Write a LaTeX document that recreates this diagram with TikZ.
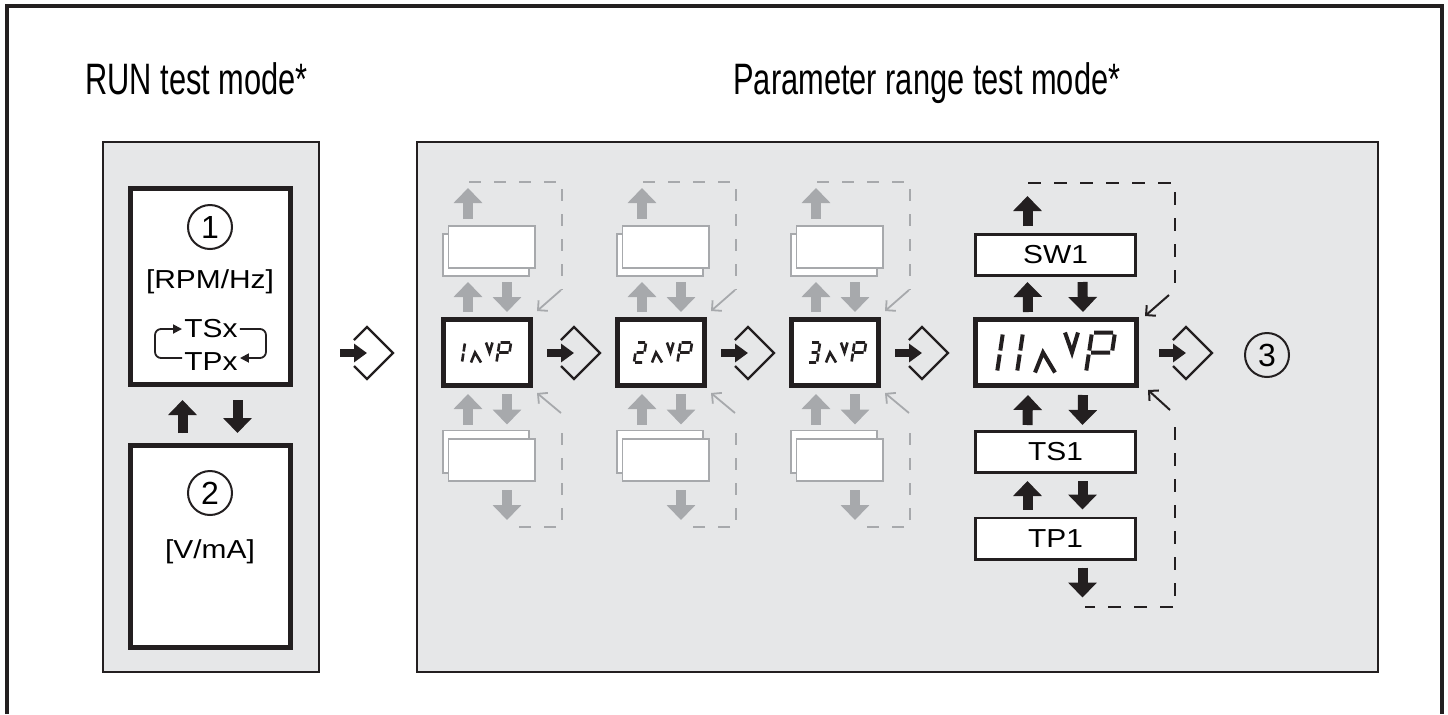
\documentclass[tikz,border=0pt]{standalone}
\usepackage{fontspec}
\setmainfont{Liberation Sans}
\newfontfamily\boxfont[FakeStretch=1.15]{Liberation Sans}
\newfontfamily\titlefont[FakeStretch=0.7]{Liberation Sans}
\usetikzlibrary{arrows.meta, calc}

\definecolor{panelgray}{RGB}{230,231,232}
\definecolor{pagegray}{RGB}{167,169,172}
\definecolor{inkblack}{RGB}{35,31,32}

% segment digits of the display (unit = segment height/2)
\newcommand{\lcdone}{\draw (0,0.1) -- (0,0.9) (0,1.1) -- (0,1.9);}
\newcommand{\lcdtwo}{\draw (-0.8,2) -- (-0.1,2) (0,1.9) -- (0,1.1) (-0.8,1) -- (-0.1,1) (-0.9,0.9) -- (-0.9,0.1) (-0.8,0) -- (-0.1,0);}
\newcommand{\lcdthree}{\draw (-0.8,2) -- (-0.1,2) (0,1.9) -- (0,1.1) (-0.7,1) -- (-0.1,1) (0,0.9) -- (0,0.1) (-0.8,0) -- (-0.1,0);}
\newcommand{\lcdtail}{%
  \draw (0.9,0) -- (1.15,1) -- (1.9,0);
  \draw (2.1,2) -- (2.6,1) -- (2.75,2);
  \draw (3.45,0.1) -- (3.45,0.9) (3.45,1.1) -- (3.45,1.9);
  \draw (3.55,2) -- (4.5,2) (4.6,1.9) -- (4.6,1.1) (3.55,1) -- (4.5,1);
}
% enter key symbol
\newcommand{\enterkey}[1]{%
  \draw[entarrow] ($(#1)+(-27,0)$) -- (#1);
  \draw[entline] ($(#1)+(-13,-13)$) -- ++(13,-13) -- ++(26,26) -- ++(-26,26) -- ++(-13,-13);
}

\begin{document}
\begin{tikzpicture}[x=0.5pt, y=-0.5pt,
    title/.style={font=\titlefont\fontsize{22}{26}\selectfont, inner sep=0pt},
    panel/.style={draw=inkblack, line width=1.2pt, fill=panelgray},
    runbox/.style={draw=inkblack, line width=2.5pt, fill=white, minimum width=80pt, minimum height=98pt, inner sep=0pt},
    txt/.style={font=\boxfont\fontsize{13}{15}\selectfont, inner sep=1pt},
    num/.style={circle, draw=inkblack, line width=1pt, minimum size=22pt, inner sep=0pt, font=\fontsize{16}{16}\selectfont},
    disp/.style={draw=inkblack, line width=2.5pt, fill=white, minimum width=43.5pt, minimum height=33pt, inner sep=0pt},
    bigdisp/.style={disp, minimum width=80.5pt},
    param/.style={draw=inkblack, line width=1.3pt, fill=white, minimum width=80.2pt, minimum height=20.7pt, inner sep=0pt, font=\boxfont\fontsize{13}{15}\selectfont},
    page/.style={draw=pagegray, line width=0.9pt, fill=white, minimum width=43.1pt, minimum height=21.1pt, inner sep=0pt},
    blk/.style={draw=inkblack, fill=inkblack, line width=5pt, -{Triangle[length=7.5pt,width=14pt]}},
    gblk/.style={blk, draw=pagegray, fill=pagegray},
    entarrow/.style={draw=inkblack, line width=4pt, -{Triangle[length=6.5pt,width=9pt]}},
    entline/.style={draw=inkblack, line width=1.2pt},
    loopline/.style={draw=inkblack, line width=0.9pt, rounded corners=3pt, -{Triangle[length=4.5pt,width=4.5pt]}},
    gdash/.style={draw=pagegray, line width=0.9pt, dash pattern=on 6pt off 6.5pt},
    bdash/.style={draw=inkblack, line width=1.3pt, dash pattern=on 6.5pt off 6.5pt},
    gthin/.style={draw=pagegray, line width=0.9pt, -{Straight Barb[length=3.5pt,width=7pt]}},
    bthin/.style={draw=inkblack, line width=1pt, -{Straight Barb[length=3.5pt,width=7pt]}}
  ]
  \useasboundingbox (0,0) rectangle (1448,714);

  % frame and panels
  \draw[inkblack, line width=1.6pt] (7,714) -- (7,6) -- (1442,6) -- (1442,714);
  \draw[panel] (103,142) rectangle (319,672);
  \draw[panel] (417,142) rectangle (1378,672);

  \node[title, anchor=base west] (runtitle) at (85,94) {RUN test mode*};
  \node[title, anchor=base west] (partitle) at (733,94) {Parameter range test mode*};

  % RUN test mode
  \node[runbox] (run) at (210.5,286.5) {};
  \node[num] (n1) at (210,227) {1};
  \node[txt] (rpm) at (210,282) {[RPM/Hz]};
  \node[txt] (tsx) at (211,329) {TSx};
  \node[txt] (tpx) at (211,362) {TPx};
  \draw[loopline] ($(tpx.west)+(0,-4)$) -- ++(-27,0) |- (tsx.west);
  \draw[loopline] (tsx.east) -- ++(26,0) |- ($(tpx.east)+(0,-4)$);

  \node[runbox, minimum height=101pt] (volt) at (210.5,546.5) {};
  \node[num] (n2) at (210,493) {2};
  \node[txt] (vma) at (210,552) {[V/mA]};

  \draw[blk] ($(volt.north)+(-28,-10)$) -- ($(run.south)+(-28,13)$);
  \draw[blk] ($(run.south)+(27,13)$) -- ($(volt.north)+(27,-10)$);

  % enter keys
  \coordinate (e1) at (367,353);
  \coordinate (e2) at (574,353);
  \coordinate (e3) at (748,353);
  \coordinate (e4) at (922,353);
  \coordinate (e5) at (1186,353);
  \foreach \e in {e1,e2,e3,e4,e5}{\enterkey{\e}}

  % parameter columns 1..3 (grey)
  \foreach \i/\cx/\dx/\dg in {1/487/-25/\lcdone, 2/661/-18/\lcdtwo, 3/835/-18/\lcdthree}{
    \node[page] (d\i tb) at (\cx-1,255) {};
    \node[page] (d\i tf) at (\cx+4.5,247) {};
    \node[page] (d\i bb) at (\cx-1,451.5) {};
    \node[page] (d\i bf) at (\cx+4.5,460) {};
    \node[disp] (d\i) at (\cx,352.5) {};
    \begin{scope}[shift={(d\i.center)}, shift={(\dx,10)}, x=5pt, y=5pt, xslant=0.15, line width=1.3pt, color=inkblack]
      \dg
      \lcdtail
    \end{scope}
    \draw[gblk] ($(d\i tf.north)+(-23.5,-6)$) -- ++(0,-31);
    \draw[gblk] ($(d\i.north)+(-19,-5)$) -- ($(d\i tb.south)+(-18,5)$);
    \draw[gblk] ($(d\i tb.south)+(21,5)$) -- ($(d\i.north)+(20,-5)$);
    \draw[gblk] ($(d\i bb.north)+(-18,-5)$) -- ($(d\i.south)+(-19,6)$);
    \draw[gblk] ($(d\i.south)+(20,6)$) -- ($(d\i bb.north)+(21,-5)$);
    \draw[gblk] ($(d\i bf.south)+(15.5,8)$) -- ++(0,30);
    \draw[gdash] ($(d\i.north)+(-18,-135)$) -| ($(d\i.north)+(75,-27)$);
    \draw[gthin] ($(d\i.north east)+(28,-27)$) -- ($(d\i.north east)+(4,-6)$);
    \draw[gthin] ($(d\i.south east)+(28,25)$) -- ($(d\i.south east)+(4,5)$);
    \draw[gdash] ($(d\i.south)+(75,45)$) |- ($(d\i.south)+(21,139)$);
  }

  % parameter column 11
  \node[param] (sw) at (1055.5,255) {SW1};
  \node[bigdisp] (big) at (1056,352.5) {};
  \node[param] (ts) at (1055.5,452) {TS1};
  \node[param] (tp) at (1055.5,538.5) {TP1};
  \begin{scope}[shift={(big.center)}, shift={(-39,20)}, x=10pt, y=10pt, xslant=0.15, line width=2pt, color=inkblack]
    \draw (-1,0.1) -- (-1,0.9) (-1,1.1) -- (-1,1.9);
    \lcdone
    \lcdtail
  \end{scope}

  \draw[blk] ($(sw.north)+(-28,-7)$) -- ++(0,-30);
  \draw[blk] ($(big.north)+(-28,-5)$) -- ($(sw.south)+(-28,5)$);
  \draw[blk] ($(sw.south)+(27,5)$) -- ($(big.north)+(27,-5)$);
  \draw[blk] ($(ts.north)+(-28,-5)$) -- ($(big.south)+(-28,7)$);
  \draw[blk] ($(big.south)+(27,7)$) -- ($(ts.north)+(27,-5)$);
  \draw[blk] ($(tp.north)+(-28,-7)$) -- ($(ts.south)+(-28,7)$);
  \draw[blk] ($(ts.south)+(27,7)$) -- ($(tp.north)+(27,-7)$);
  \draw[blk] ($(tp.south)+(27,7)$) -- ++(0,30);

  \draw[bdash] ($(big.north)+(-28,-134)$) -| ($(big.north)+(119,-32)$);
  \draw[bthin] ($(big.north east)+(30,-22)$) -- ($(big.north east)+(6,-1)$);
  \draw[bthin] ($(big.south east)+(31,22)$) -- ($(big.south east)+(9,2)$);
  \draw[bdash] ($(big.south)+(119,39)$) |- ($(big.south)+(29,219)$);

  \node[num] (n3) at (1267,355) {3};
\end{tikzpicture}
\end{document}
